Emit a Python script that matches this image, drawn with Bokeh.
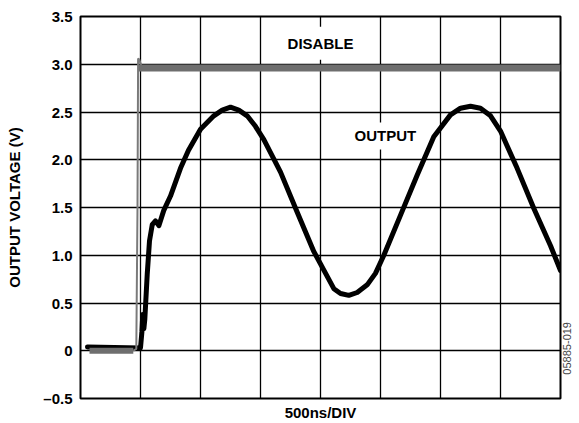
from bokeh.plotting import figure
from bokeh.models import Range1d, FixedTicker, Label, LinearAxis
from bokeh.embed import file_html
from bokeh.resources import INLINE
import math

# ---- data (time in ns, 500 ns per division; voltage in V) ----
out_t = [58, 500, 512, 519, 528, 536, 556, 575, 598, 625, 653, 694, 750, 833, 900,
         1000, 1111, 1181, 1250, 1319, 1389, 1458, 1528, 1667, 1806, 1944,
         2111, 2167, 2236, 2306, 2389, 2458, 2528, 2667, 2806, 2944,
         3083, 3167, 3250, 3333, 3417, 3500, 3639, 3778, 3917, 4000]
out_v = [0.04, 0.03, 0.20, 0.38, 0.23, 0.33, 0.80, 1.15, 1.32, 1.36, 1.31, 1.47, 1.62, 1.91, 2.10,
         2.32, 2.46, 2.52, 2.55, 2.52, 2.46, 2.35, 2.21, 1.87, 1.45, 1.04,
         0.65, 0.60, 0.58, 0.61, 0.69, 0.81, 1.00, 1.42, 1.84, 2.24,
         2.47, 2.54, 2.56, 2.54, 2.46, 2.30, 1.91, 1.49, 1.10, 0.84]

dis_low_t = [75, 440]
dis_low_v = [0.0, 0.0]
dis_edge_t = [440, 465, 475, 480, 490, 510]
dis_edge_v = [0.0, 0.02, 1.50, 3.06, 3.05, 2.97]
dis_high_t = [485, 4000]
dis_high_v = [2.96, 2.96]

grid_x = [0, 500, 1000, 1500, 2000, 2500, 3000, 3500, 4000]
ytick_values = [-0.5, 0.0, 0.5, 1.0, 1.5, 2.0, 2.5, 3.0, 3.5]
ytick_labels = ["\u20130.5", "0", "0.5", "1.0", "1.5", "2.0", "2.5", "3.0", "3.5"]

FONT = "Liberation Sans"

p = figure(width=579, height=423, output_backend="svg", toolbar_location=None,
           x_range=Range1d(0, 4000), y_range=Range1d(-0.5, 3.5),
           min_border_left=80, min_border_right=19, min_border_top=16, min_border_bottom=22)
p.background_fill_color = "white"
p.border_fill_color = "white"
p.outline_line_color = "black"
p.outline_line_width = 2

p.xgrid.ticker = FixedTicker(ticks=grid_x)
p.ygrid.ticker = FixedTicker(ticks=ytick_values)
for g in (p.xgrid, p.ygrid):
    g.grid_line_color = "black"
    g.grid_line_width = 1.3
    g.grid_line_alpha = 1.0


def plain_axis(ax):
    ax.axis_line_color = None
    ax.major_tick_line_color = None
    ax.minor_tick_line_color = None
    ax.major_tick_in = 0
    ax.major_tick_out = 0
    ax.minor_tick_in = 0
    ax.minor_tick_out = 0


# left axis: tick labels + title
ya = p.yaxis[0]
plain_axis(ya)
ya.ticker = FixedTicker(ticks=ytick_values)
ya.major_label_overrides = {v: s for v, s in zip(ytick_values, ytick_labels)}
ya.major_label_standoff = 8
ya.major_label_text_font = FONT
ya.major_label_text_font_style = "bold"
ya.major_label_text_font_size = "15px"
ya.major_label_text_color = "black"
ya.axis_label = "OUTPUT VOLTAGE (V)"
ya.axis_label_standoff = 17
ya.axis_label_text_font = FONT
ya.axis_label_text_font_style = "bold"
ya.axis_label_text_font_size = "15px"
ya.axis_label_text_color = "black"

# bottom axis: only the "500ns/DIV" caption
xa = p.xaxis[0]
plain_axis(xa)
xa.ticker = FixedTicker(ticks=[2000])
xa.major_label_overrides = {2000: "500ns/DIV"}
xa.major_label_standoff = 5
xa.major_label_text_font = FONT
xa.major_label_text_font_style = "bold"
xa.major_label_text_font_size = "15px"
xa.major_label_text_color = "black"

# right axis: figure code
ra = LinearAxis(ticker=FixedTicker(ticks=[-0.25]),
                major_label_overrides={-0.25: "05885-019"})
plain_axis(ra)
ra.major_label_orientation = math.pi / 2
ra.major_label_standoff = 6
ra.major_label_text_font = FONT
ra.major_label_text_font_size = "11px"
ra.major_label_text_color = "#444444"
p.add_layout(ra, "right")

# traces
p.line(out_t, out_v, line_color="black", line_width=5, line_join="round", line_cap="round")
p.line(dis_low_t, dis_low_v, line_color="#6e6e6e", line_width=6)
p.line(dis_edge_t, dis_edge_v, line_color="#7a7a7a", line_width=2)
p.line(dis_high_t, dis_high_v, line_color="#6e6e6e", line_width=7)


def lab(x, y, text, pad):
    p.add_layout(Label(x=x, y=y, text=text, text_font=FONT, text_font_size="15px",
                       text_font_style="bold", text_color="black",
                       text_align="center", text_baseline="middle",
                       background_fill_color="white", padding=pad))


lab(2000, 3.22, "DISABLE", 8)
lab(2540, 2.25, "OUTPUT", 5)

open("out.html", "w").write(file_html(p, INLINE))
